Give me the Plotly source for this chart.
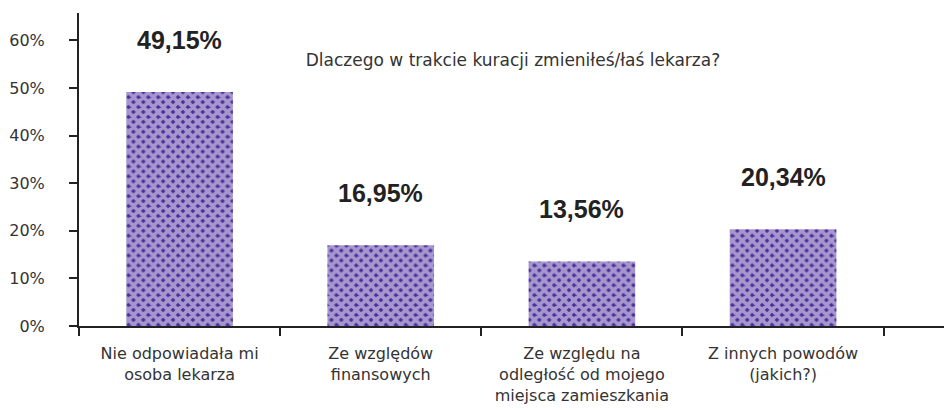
import plotly.graph_objects as go

# Survey answers and their shares
categories = [
    "Nie odpowiadała mi<br>osoba lekarza",
    "Ze względów<br>finansowych",
    "Ze względu na<br>odległość od mojego<br>miejsca zamieszkania",
    "Z innych powodów<br>(jakich?)",
]
shares = [0.4915, 0.1695, 0.1356, 0.2034]
share_labels = ["49,15%", "16,95%", "13,56%", "20,34%"]
y_ticks = [0, 0.1, 0.2, 0.3, 0.4, 0.5, 0.6]
y_tick_labels = ["0%", "10%", "20%", "30%", "40%", "50%", "60%"]
title_text = "Dlaczego w trakcie kuracji zmieniłeś/łaś lekarza?"

TEXT = "#333333"
DOTS = "#4a2d9b"
FONT = "DejaVu Sans"

# Purple fill broken up by a white diagonal cross-hatch -> staggered dot texture
fig = go.Figure(
    go.Bar(
        x=categories,
        y=shares,
        marker=dict(
            color=DOTS,
            line=dict(width=0),
            pattern=dict(shape="x", fgcolor="white", bgcolor=DOTS, size=7, solidity=0.78),
        ),
        hoverinfo="skip",
    )
)

for cat, val, lab in zip(categories, shares, share_labels):
    fig.add_annotation(
        x=cat, y=val, text=f"<b>{lab}</b>", showarrow=False,
        yshift=52, font=dict(family="Liberation Sans", size=25, color="#222222"),
    )

fig.update_layout(
    width=944, height=410,
    margin=dict(l=79, r=0, t=13, b=84),
    paper_bgcolor="white", plot_bgcolor="white",
    bargap=0.47,
    showlegend=False,
    font=dict(family=FONT, size=17, color=TEXT),
    title=dict(
        text=title_text, xref="container", x=513 / 944, xanchor="center",
        yref="container", y=1 - 60 / 410, yanchor="middle",
        font=dict(family=FONT, size=17, color=TEXT),
    ),
    xaxis=dict(
        range=[-0.5, 3.8], automargin=False,
        showline=True, linecolor="#222222", linewidth=2,
        ticks="outside", tickson="boundaries", ticklen=8, tickwidth=2, tickcolor="#222222",
        showgrid=False, ticklabelstandoff=12,
        tickfont=dict(family=FONT, size=16, color=TEXT),
    ),
    yaxis=dict(
        range=[0, 0.6576], automargin=False,
        tickvals=y_ticks, ticktext=y_tick_labels,
        showline=True, linecolor="#222222", linewidth=2,
        ticks="outside", ticklen=8, tickwidth=2, tickcolor="#222222",
        showgrid=False, zeroline=False, ticklabelstandoff=21,
        tickfont=dict(family=FONT, size=16, color=TEXT),
    ),
)

fig.write_html("out.html")
